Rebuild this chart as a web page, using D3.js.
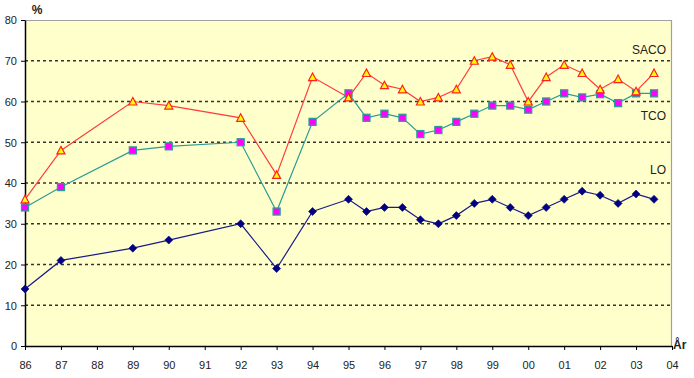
<!DOCTYPE html>
<html>
<head>
<meta charset="utf-8">
<script src="https://cdn.jsdelivr.net/npm/d3@7"></script>
<style>
  body { margin: 0; background: #fff; }
  text { font-family: Arial, "Liberation Sans", sans-serif; font-size: 11px; fill: #222; }
</style>
</head>
<body>
<div id="chart"></div>
<script>
// years (decimal, two-digit style: 86 = 1986, 104 = 2004)
const years = [86, 87, 89, 90, 92, 93, 94, 95, 95.5, 96, 96.5, 97, 97.5, 98, 98.5,
  99, 99.5, 100, 100.5, 101, 101.5, 102, 102.5, 103, 103.5];
const saco = [36, 48, 60, 59, 56, 42, 66, 61, 67, 64, 63, 60, 61, 63, 70,
  71, 69, 60, 66, 69, 67, 63, 65.5, 62.5, 67];
const tco = [34, 39, 48, 49, 50, 33, 55, 62, 56, 57, 56, 52, 53, 55, 57,
  59, 59, 58, 60, 62, 61, 61.8, 59.6, 62, 62];
const lo = [14, 21, 24, 26, 30, 19, 33, 36, 33, 34, 34, 31, 30, 32, 35,
  36, 34, 32, 34, 36, 38, 37, 35, 37.3, 36];
const xTicks = d3.range(86, 105);
const yTicks = [0, 10, 20, 30, 40, 50, 60, 70, 80];

const W = 694, H = 378;
const margin = { top: 20, right: 22, bottom: 32, left: 25 },
  width = W - margin.left - margin.right,
  height = H - margin.top - margin.bottom;

const svg = d3.select("#chart")
  .append("svg")
  .attr("width", W)
  .attr("height", H)
  .append("g")
  .attr("transform", `translate(${margin.left},${margin.top})`);

const x = d3.scaleLinear().domain([86, 104]).range([0, width]);
const y = d3.scaleLinear().domain([0, 80]).range([height, 0]);

// plot background
svg.append("rect")
  .attr("width", width).attr("height", height)
  .attr("fill", "#ffffcc");

// dashed gridlines
svg.selectAll(".grid")
  .data(yTicks.filter(d => d > 0 && d < 80))
  .join("line")
  .attr("class", "grid")
  .attr("x1", 0).attr("x2", width)
  .attr("y1", d => y(d)).attr("y2", d => y(d))
  .attr("stroke", "#333")
  .attr("stroke-width", 1.5)
  .attr("stroke-dasharray", "3,3");

// top and right border
svg.append("path")
  .attr("d", `M0,0.5H${width - 0.5}V${height}`)
  .attr("fill", "none")
  .attr("stroke", "#a0a0a0")
  .attr("stroke-width", 1.2);

// axes
const fmtYear = d => String(d % 100).padStart(2, "0");
const xAxis = svg.append("g")
  .attr("transform", `translate(0,${height})`)
  .call(d3.axisBottom(x).tickValues(xTicks).tickFormat(fmtYear).tickSize(4).tickPadding(11).tickSizeOuter(0));
const yAxis = svg.append("g")
  .call(d3.axisLeft(y).tickValues(yTicks).tickSize(4).tickPadding(4).tickSizeOuter(0));
[xAxis, yAxis].forEach(a => {
  a.select(".domain").attr("stroke", "#000").attr("stroke-width", 1.5);
  a.selectAll(".tick line").attr("stroke", "#000");
  a.selectAll(".tick text").attr("fill", "#222").style("font-size", "11px")
    .style("font-family", "Arial, 'Liberation Sans', sans-serif");
});
yAxis.selectAll(".tick text").attr("dy", "0.36em");

// series
const series = [
  { name: "LO", values: lo, line: "#1a1a8c", marker: "diamond" },
  { name: "TCO", values: tco, line: "#2a9c94", marker: "square" },
  { name: "SACO", values: saco, line: "#ff3b3b", marker: "triangle" }
];

const line = d3.line().x(d => x(d[0])).y(d => y(d[1]));

series.forEach(s => {
  const pts = years.map((yr, i) => [yr, s.values[i]]);
  svg.append("path")
    .datum(pts)
    .attr("d", line)
    .attr("fill", "none")
    .attr("stroke", s.line)
    .attr("stroke-width", 1.2);

  const g = svg.append("g");
  if (s.marker === "diamond") {
    g.selectAll("path").data(pts).join("path")
      .attr("transform", d => `translate(${x(d[0])},${y(d[1])})`)
      .attr("d", "M0,-4L4,0L0,4L-4,0Z")
      .attr("fill", "#000080")
      .attr("stroke", "#000080")
      .attr("stroke-width", 0.6);
  } else if (s.marker === "square") {
    g.selectAll("rect").data(pts).join("rect")
      .attr("x", d => x(d[0]) - 3.5)
      .attr("y", d => y(d[1]) - 3.5)
      .attr("width", 7).attr("height", 7)
      .attr("fill", "#ff00ff")
      .attr("stroke", "#2a9c94")
      .attr("stroke-width", 1.3);
  } else {
    g.selectAll("path").data(pts).join("path")
      .attr("transform", d => `translate(${x(d[0])},${y(d[1])})`)
      .attr("d", "M0,-4L4,3.5L-4,3.5Z")
      .attr("fill", "#ffff00")
      .attr("stroke", "#ff2020")
      .attr("stroke-width", 1.2);
  }
});

// series labels
const labels = [
  { text: "SACO", v: 72.8 },
  { text: "TCO", v: 56.5 },
  { text: "LO", v: 43.3 }
];
svg.selectAll(".slabel").data(labels).join("text")
  .attr("class", "slabel")
  .attr("x", width - 6)
  .attr("y", d => y(d.v))
  .attr("dy", "0.36em")
  .attr("text-anchor", "end")
  .style("font-size", "12px")
  .text(d => d.text);

// axis titles
svg.append("text")
  .attr("x", 12).attr("y", -6)
  .attr("text-anchor", "middle")
  .style("font-size", "12px")
  .style("font-weight", "bold")
  .text("%");
svg.append("text")
  .attr("x", width + 1).attr("y", height + 3)
  .style("font-size", "12px")
  .style("font-weight", "bold")
  .text("År");
</script>
</body>
</html>
